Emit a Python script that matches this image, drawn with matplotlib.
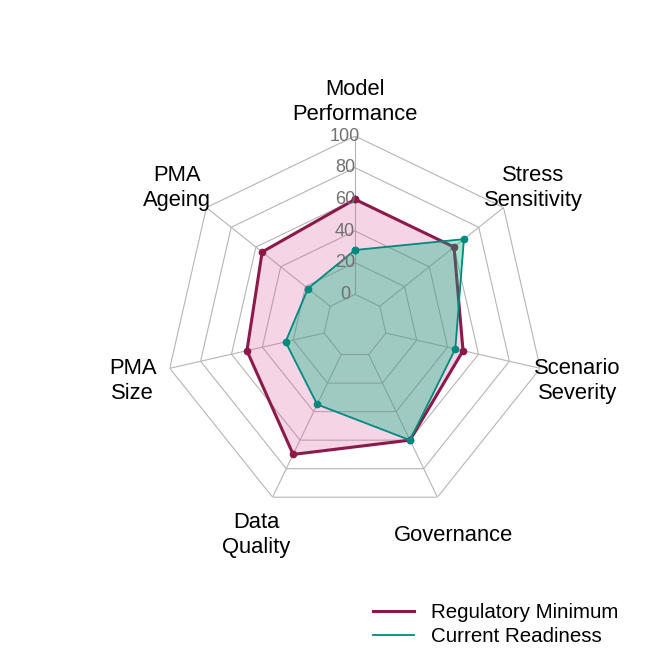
import numpy as np
import matplotlib
matplotlib.use("Agg")
import matplotlib.pyplot as plt
from matplotlib.lines import Line2D
from matplotlib.transforms import offset_copy

plt.rcParams['font.family'] = ['Liberation Sans', 'DejaVu Sans']

categories = ["Model\nPerformance", "Stress\nSensitivity", "Scenario\nSeverity",
              "Governance", "Data\nQuality", "PMA\nSize", "PMA\nAgeing"]
regulatory_minimum = [60, 60, 50, 60, 70, 50, 55]
current_readiness = [28, 68, 45, 60, 35, 25, 18]
grid_levels = [0, 20, 40, 60, 80, 100]
tick_labels = ["0", "20", "40", "60", "80", "100"]
series_names = ["Regulatory Minimum", "Current Readiness"]

reg_line = "#8B1A4B"
reg_fill = "#D9559A"
cur_line = "#00897E"
cur_fill = "#00B880"
grid_col = "#B5B5B5"

fig = plt.figure(figsize=(6.72, 6.72), dpi=100)
ax = fig.add_axes([0.2455, 0.2321, 0.5655, 0.5655], projection='polar')
ax.set_theta_offset(np.pi / 2)
ax.set_theta_direction(-1)
ax.set_ylim(-20, 100)
ax.set_axis_off()

n = len(categories)
angles = np.linspace(0, 2 * np.pi, n, endpoint=False)
closed = np.concatenate([angles, angles[:1]])

for g in grid_levels:
    ax.plot(closed, [g] * (n + 1), color=grid_col, lw=0.8, zorder=1)
for a in angles:
    ax.plot([a, a], [grid_levels[0], grid_levels[-1]], color=grid_col, lw=0.8, zorder=1)

def close(v):
    return list(v) + [v[0]]

ax.fill(closed, close(regulatory_minimum), color=reg_fill, alpha=0.25, lw=0, zorder=2)
ax.plot(closed, close(regulatory_minimum), color=reg_line, lw=2.2, zorder=3,
        marker='o', markersize=4.5)
ax.fill(closed, close(current_readiness), color=cur_fill, alpha=0.35, lw=0, zorder=4)
ax.plot(closed, close(current_readiness), color=cur_line, lw=1.3, zorder=5,
        marker='o', markersize=4.5)

tr = offset_copy(ax.transData, fig=fig, x=-10, y=0, units='dots')
for g, lab in zip(grid_levels, tick_labels):
    ax.text(0, g, lab, transform=tr, ha='center', va='center', fontsize=13,
            color='#707070', zorder=6)

tr_lab = offset_copy(ax.transData, fig=fig, x=0, y=-4, units='dots')
for a, c in zip(angles, categories):
    ax.text(a, 124, c, transform=tr_lab, ha='center', va='center', fontsize=15.8,
            color='black', linespacing=1.25)

handles = [Line2D([0], [0], color=reg_line, lw=2.2),
           Line2D([0], [0], color=cur_line, lw=1.3)]
fig.legend(handles, series_names, loc='upper left',
           bbox_to_anchor=(354 / 672, 1 - 585 / 672), frameon=False,
           fontsize=14.8, handlelength=2.0, handletextpad=0.85, labelspacing=0.22,
           borderpad=0.4)

fig.savefig("out.png", dpi=100, facecolor='white')
